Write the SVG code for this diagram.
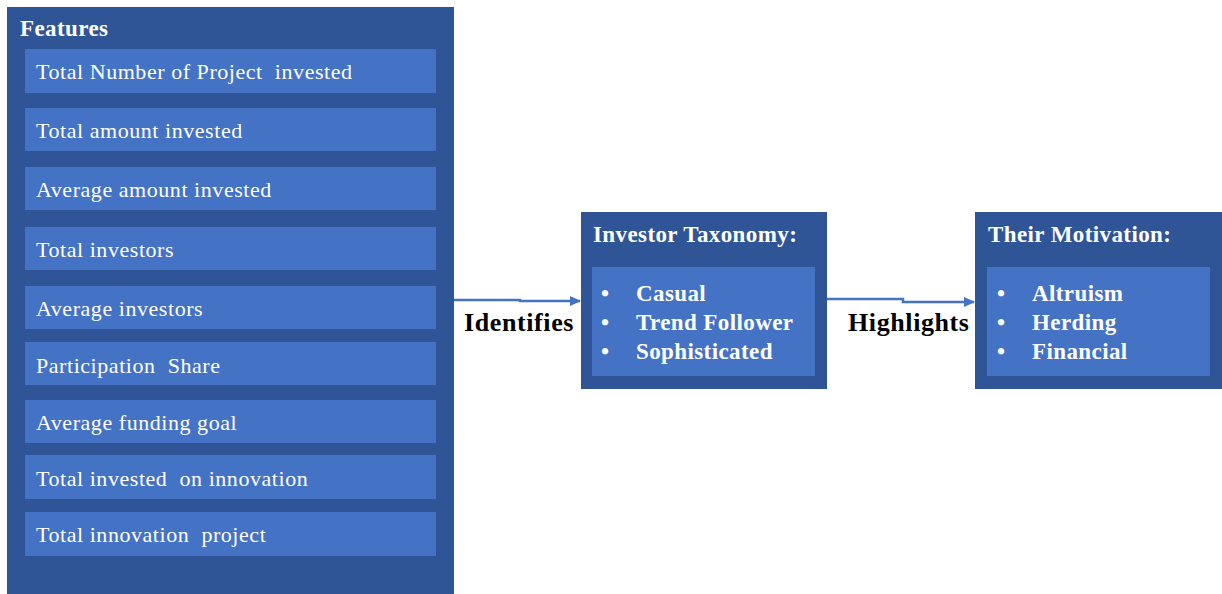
<svg xmlns="http://www.w3.org/2000/svg" width="1222" height="594" viewBox="0 0 1222 594">
<defs>
<style>
.outer{fill:#2F5597}
.inner{fill:#4472C4}
.t{font-family:"Liberation Serif",serif;fill:#fff;font-size:22px;letter-spacing:0.55px;white-space:pre}
.b{font-family:"Liberation Serif",serif;fill:#fff;font-size:23px;font-weight:bold;letter-spacing:0.4px}
.lbl{font-family:"Liberation Serif",serif;fill:#000;font-size:26px;font-weight:bold;letter-spacing:0.6px}
.con{stroke:#4472C4;stroke-width:2.5;fill:none}
</style>
<marker id="ah" markerWidth="11" markerHeight="10" refX="10" refY="5" orient="auto" markerUnits="userSpaceOnUse">
<path d="M0,0 L11,5 L0,10 Z" fill="#4472C4"/>
</marker>
</defs>
<rect width="1222" height="594" fill="#fff"/>
<g id="features">
<rect class="outer" x="7" y="7" width="447" height="587"/>
<text class="b" x="20" y="36">Features</text>
<rect class="inner" x="25" y="49" width="411" height="44"/>
<text class="t" x="36" y="79" xml:space="preserve">Total Number of Project  invested</text>
<rect class="inner" x="25" y="108" width="411" height="43"/>
<text class="t" x="36" y="138">Total amount invested</text>
<rect class="inner" x="25" y="167" width="411" height="43"/>
<text class="t" x="36" y="197">Average amount invested</text>
<rect class="inner" x="25" y="227" width="411" height="43"/>
<text class="t" x="36" y="257">Total investors</text>
<rect class="inner" x="25" y="286" width="411" height="43"/>
<text class="t" x="36" y="316">Average investors</text>
<rect class="inner" x="25" y="342" width="411" height="43"/>
<text class="t" x="36" y="373" xml:space="preserve">Participation  Share</text>
<rect class="inner" x="25" y="400" width="411" height="43"/>
<text class="t" x="36" y="430">Average funding goal</text>
<rect class="inner" x="25" y="455" width="411" height="44"/>
<text class="t" x="36" y="486" xml:space="preserve">Total invested  on innovation</text>
<rect class="inner" x="25" y="512" width="411" height="44"/>
<text class="t" x="36" y="542" xml:space="preserve">Total innovation  project</text>
</g>
<g id="taxonomy">
<rect class="outer" x="581" y="212" width="246" height="177"/>
<text class="b" x="593" y="242">Investor Taxonomy:</text>
<rect class="inner" x="592" y="267" width="223" height="109"/>
<text class="b" x="601" y="301">•</text><text class="b" x="636" y="301">Casual</text>
<text class="b" x="601" y="330">•</text><text class="b" x="636" y="330">Trend Follower</text>
<text class="b" x="601" y="359">•</text><text class="b" x="636" y="359">Sophisticated</text>
</g>
<g id="motivation">
<rect class="outer" x="975" y="212" width="247" height="177"/>
<text class="b" x="988" y="242">Their Motivation:</text>
<rect class="inner" x="987" y="267" width="223" height="109"/>
<text class="b" x="997" y="301">•</text><text class="b" x="1032" y="301">Altruism</text>
<text class="b" x="997" y="330">•</text><text class="b" x="1032" y="330">Herding</text>
<text class="b" x="997" y="359">•</text><text class="b" x="1032" y="359">Financial</text>
</g>
<g id="connectors">
<path class="con" d="M454,300 H520 V301 H580" marker-end="url(#ah)"/>
<path class="con" d="M827,299 H903 V302 H974" marker-end="url(#ah)"/>
<text class="lbl" x="464" y="331">Identifies</text>
<text class="lbl" x="848" y="331">Highlights</text>
</g>
</svg>
